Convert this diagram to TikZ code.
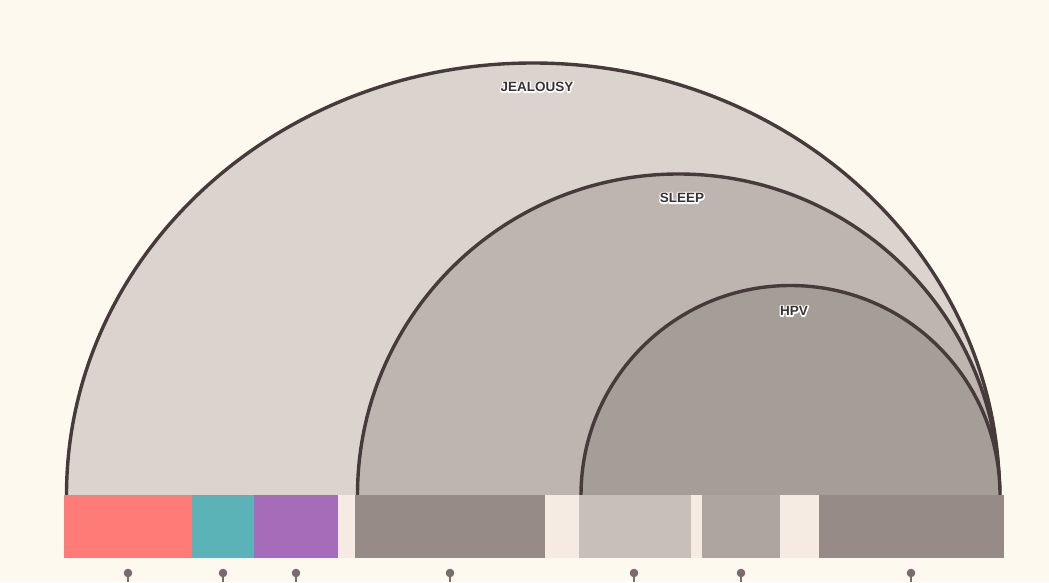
\documentclass[tikz,border=0pt]{standalone}
\usepackage{fontspec}
\setmainfont{Liberation Sans}
\usetikzlibrary{positioning}
\definecolor{paper}{HTML}{FEF9EF}
\definecolor{edge}{HTML}{463B3A}
\definecolor{fillJ}{HTML}{DAD3CE}
\definecolor{fillS}{HTML}{BEB5B0}
\definecolor{fillH}{HTML}{A59D98}
\definecolor{segred}{HTML}{FF7B77}
\definecolor{segteal}{HTML}{5CB3B7}
\definecolor{segpurple}{HTML}{A66CBA}
\definecolor{seggap}{HTML}{F5EBE2}
\definecolor{segdark}{HTML}{968B86}
\definecolor{seglight}{HTML}{C8C0B8}
\definecolor{segmid}{HTML}{AEA59F}
\definecolor{pin}{HTML}{7D6A6F}
\definecolor{ink}{HTML}{3A3232}
% white outline behind a label
\newcommand{\halotext}[1]{\special{pdf:code 1 Tr 2.8 w 1 j 1 1 1 RG}#1\special{pdf:code 0 Tr}}
\tikzset{
    arcband/.style={
        draw=edge,
        line width=3.4pt
    },
    arclabel/.style={
        font=\bfseries\fontsize{13.5}{14}\selectfont,
        text=ink,
        inner sep=0pt
    },
    segment/.style={
        draw=none
    },
    pinhead/.style={
        fill=pin,
        draw=none
    },
    pinstem/.style={
        draw=pin,
        line width=1.5pt
    },
}

\begin{document}
\begin{tikzpicture}[x=1pt, y=1pt]
    % background
    \fill[paper] (0,0) rectangle (1049,582);
    \useasboundingbox (0,0) rectangle (1049,582);

    % arcs
    \fill[fillJ] (66.5,87) arc[start angle=180, end angle=0, x radius=466.5, y radius=432] -- cycle;
    \draw[arcband] (66.5,87) arc[start angle=180, end angle=0, x radius=466.5, y radius=432];
    \fill[fillS] (357.5,87) arc[start angle=180, end angle=0, radius=321] -- cycle;
    \draw[arcband] (357.5,87) arc[start angle=180, end angle=0, radius=321];
    \fill[fillH] (581,87) arc[start angle=180, end angle=0, radius=209.5] -- cycle;
    \draw[arcband] (581,87) arc[start angle=180, end angle=0, radius=209.5];

    % labels
    \node[arclabel] (jealousy halo) at (537,495) {\halotext{JEALOUSY}};
    \node[arclabel] (jealousy) at (jealousy halo.center) {JEALOUSY};
    \node[arclabel] (sleep halo) at (682,384) {\halotext{SLEEP}};
    \node[arclabel] (sleep) at (sleep halo.center) {SLEEP};
    \node[arclabel] (hpv halo) at (794,271) {\halotext{HPV}};
    \node[arclabel] (hpv) at (hpv halo.center) {HPV};

    % bar
    \foreach \x/\w/\c in {64/192/segred, 192/254/segteal, 254/338/segpurple, 338/355/seggap,
        355/545/segdark, 545/579/seggap, 579/691/seglight, 691/702/seggap,
        702/780/segmid, 780/819/seggap, 819/1004/segdark}
        \fill[segment, \c] (\x,24) rectangle (\w,87);

    % pins
    \foreach \x in {128,223,296,450,634,741,911} {
        \draw[pinstem] (\x,9) -- (\x,0);
        \fill[pinhead] (\x,9) circle (4.3);
    }
\end{tikzpicture}
\end{document}
